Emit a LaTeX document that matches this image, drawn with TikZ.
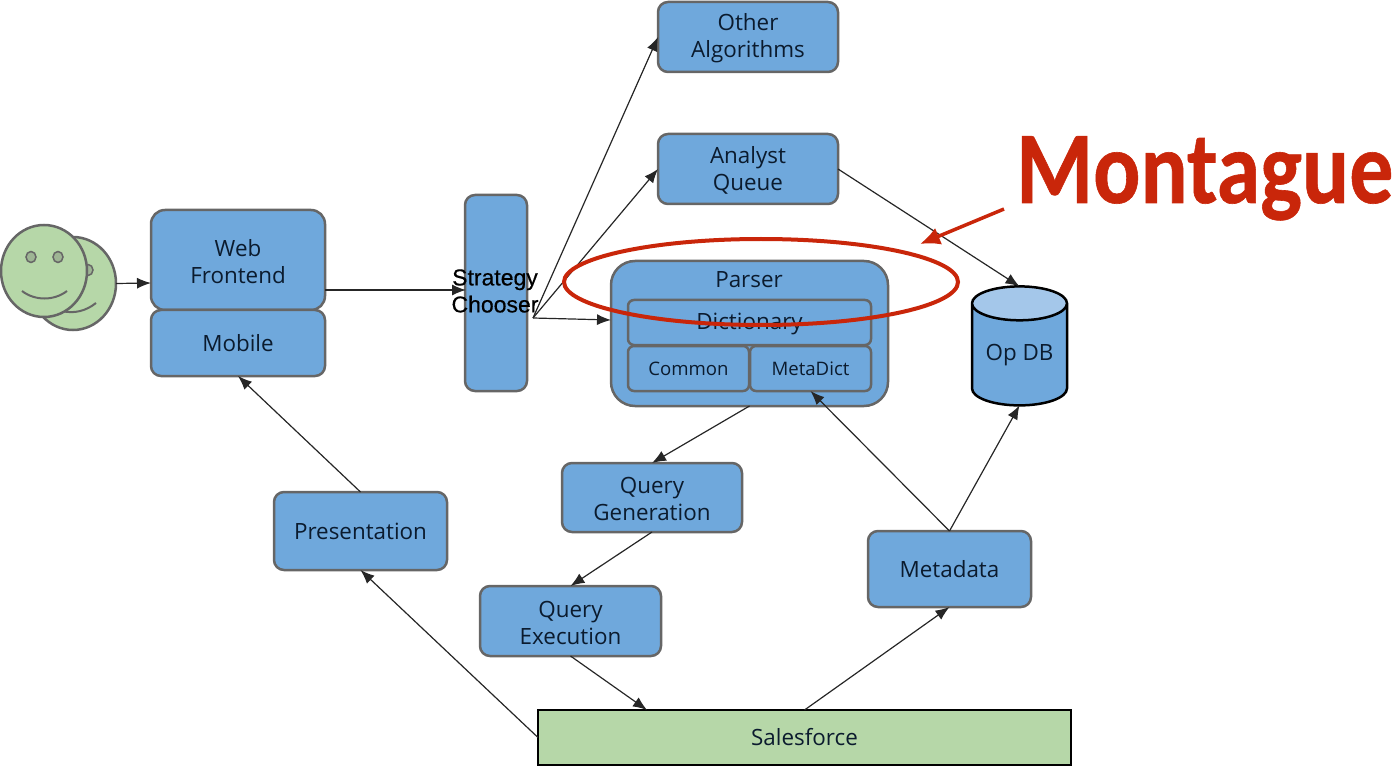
\documentclass[tikz,border=0pt]{standalone}
\usepackage{fontspec}
\setmainfont{Open Sans}
\newfontfamily\chooserfont[FakeBold=0.4]{Liberation Sans}
\newfontfamily\titlefont[BoldFeatures={FakeBold=0.6}]{Carlito}
\usetikzlibrary{shapes.geometric,arrows.meta}
\definecolor{boxblue}{HTML}{6FA8DC}
\definecolor{boxedge}{HTML}{666666}
\definecolor{topblue}{HTML}{A4C7EA}
\definecolor{facegreen}{HTML}{B6D7A8}
\definecolor{markred}{HTML}{C9260A}
\definecolor{boxtext}{HTML}{0B1B2E}
\newcommand{\topline}{\rule{0pt}{20pt}}
\tikzset{
	box/.style={draw=boxedge, fill=boxblue, line width=2.5, rounded corners=#1, inner sep=0, outer sep=0, align=center, text=boxtext, font=\fontsize{22.4}{27}\selectfont},
	box/.default=10,
	small/.style={font=\fontsize{18.6}{23}\selectfont},
	conn/.style={-{Latex[length=14,width=11]}, line width=1.2, black!85},
	face/.style={ellipse, draw=boxedge, fill=facegreen, line width=2.5, inner sep=0, outer sep=0},
	eye/.style={ellipse, draw=boxedge, fill=facegreen!70!boxedge, line width=1.5, minimum width=10, minimum height=11, inner sep=0},
	smile/.style={draw=boxedge, line width=2}
}
\begin{document}
\begin{tikzpicture}[x=1pt,y=-1pt]
	\useasboundingbox (0,0) rectangle (1392,767);

	% users
	\node[face, minimum width=86, minimum height=93] (backface) at (73,283.5) {};
	\node[eye] (backeye) at (88,270) {};
	\draw[smile] (62,311) .. controls (74,314) and (86,311) .. (96,303);
	\node[face, minimum width=86, minimum height=92] (frontface) at (44,271) {};
	\node[eye] (lefteye) at (31,257) {};
	\node[eye] (righteye) at (58,257) {};
	\draw[smile] (22,291) .. controls (35,301) and (54,301) .. (67,291);

	% boxes
	\node[box=14, minimum width=174, minimum height=100] (web) at (238,260) {\topline Web\\Frontend};
	\node[box, minimum width=174, minimum height=66] (mobile) at (238,343) {Mobile};
	\node[box, minimum width=62, minimum height=196] (chooser) at (496,293) {};
	\node[box, minimum width=180, minimum height=70] (other) at (748,37) {\topline Other\\Algorithms};
	\node[box, minimum width=180, minimum height=70] (analyst) at (748,169) {\topline Analyst\\Queue};
	\node[box=24, minimum width=277, minimum height=145] (parser) at (749.5,333.5) {};
	\node[font=\fontsize{22.4}{27}\selectfont, text=boxtext] (parsername) at (749,280) {Parser};
	\node[box=6, minimum width=243, minimum height=45] (dictionary) at (749.5,322.5) {\topline Dictionary};
	\node[box=6, small, minimum width=121, minimum height=45] (common) at (688.5,368.5) {Common};
	\node[box=6, small, minimum width=121, minimum height=45] (metadict) at (810.5,368.5) {MetaDict};
	\node[box, minimum width=180, minimum height=69] (querygen) at (652,497.5) {\topline Query\\Generation};
	\node[box, minimum width=181, minimum height=70] (queryexec) at (570.5,621) {\topline Query\\Execution};
	\node[box, minimum width=173, minimum height=78] (presentation) at (360.5,531) {Presentation};
	\node[box, minimum width=163, minimum height=76] (metadata) at (949.5,569) {Metadata};
	\node[draw=black, fill=facegreen, line width=2.5, inner sep=0, outer sep=0, minimum width=533, minimum height=55, text=boxtext, font=\fontsize{22.4}{27}\selectfont] (salesforce) at (804.5,737.5) {Salesforce};
	\node[cylinder, shape border rotate=90, aspect=0.5, draw=black, line width=2.5, inner sep=0, outer sep=0, minimum width=95, minimum height=119, cylinder uses custom fill, cylinder body fill=boxblue, cylinder end fill=topblue, text=boxtext, font=\fontsize{22.4}{27}\selectfont] (opdb) at (1019.5,355) {Op DB};

	% free ends of the connectors
	\coordinate (fork) at (533,318);
	\coordinate (webin) at (151,283);
	\coordinate (webout) at (325,290);
	\coordinate (chooserin) at (466,290);
	\coordinate (parserin) at (611,320);
	\coordinate (salesin) at (647,710);

	% connectors
	\foreach \from/\to in {backface.east/webin, webout/chooserin, fork/parserin, fork/analyst.west, fork/other.west, analyst.east/opdb.north, parser.south/querygen.north, querygen.south/queryexec.north, queryexec.south/salesin, salesforce.west/presentation.south, presentation.north/mobile.south, salesforce.north/metadata.south, metadata.north/metadict.south, metadata.north/opdb.south}{
		\draw[conn] (\from) -- (\to);
	}
	\node[font=\chooserfont\fontsize{23}{27}\selectfont, align=center, inner sep=0] (choosername) at (495,291) {Strategy\\Chooser};

	% highlight
	\node[ellipse, draw=markred, line width=4, minimum width=394, minimum height=86, inner sep=0] (mark) at (761,282) {};
	\node[font=\titlefont\bfseries\fontsize{103}{103}\selectfont, text=markred, anchor=base west, inner sep=0, xscale=0.855, transform shape] (montague) at (1016,203) {Montague};
	\coordinate (markfrom) at (1004,209);
	\coordinate (markto) at (920,244);
	\draw[-{Latex[length=20,width=18]}, markred, line width=3.5] (markfrom) -- (markto);
\end{tikzpicture}
\end{document}
